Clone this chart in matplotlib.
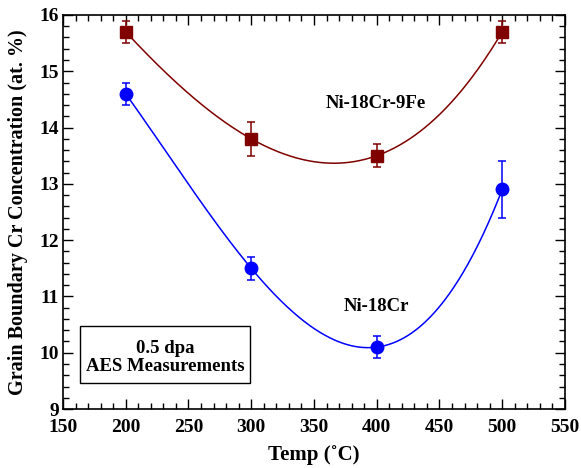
import numpy as np
import matplotlib
matplotlib.use("Agg")
import matplotlib.pyplot as plt
from matplotlib.ticker import MultipleLocator
from matplotlib.patches import Rectangle

plt.rcParams['font.family'] = ['Liberation Serif', 'DejaVu Serif']
plt.rcParams['font.weight'] = 'bold'

temps = [200, 300, 400, 500]
cr_fe = [15.7, 13.8, 13.5, 15.7]
cr_fe_err = [0.2, 0.3, 0.2, 0.2]
cr = [14.6, 11.5, 10.1, 12.9]
cr_err = [0.2, 0.2, 0.2, 0.5]

red = '#800000'
blue = '#0000ff'

fig = plt.figure(figsize=(5.81, 4.68), dpi=100)
ax = fig.add_axes([0.1084, 0.126, 0.864, 0.842])

xs = np.linspace(200, 500, 300)
for y, err, col, mk, ms in [(cr_fe, cr_fe_err, red, 's', 9), (cr, cr_err, blue, 'o', 9)]:
    coef = np.polyfit(temps, y, 3)
    ax.plot(xs, np.polyval(coef, xs), color=col, lw=1.1)
    ax.errorbar(temps, y, yerr=err, fmt=mk, color=col, ms=ms, capsize=3,
                elinewidth=1.1, capthick=1.1)

ax.set_xlim(150, 550)
ax.set_ylim(9, 16)
ax.xaxis.set_major_locator(MultipleLocator(50))
ax.xaxis.set_minor_locator(MultipleLocator(10))
ax.yaxis.set_major_locator(MultipleLocator(1))
ax.yaxis.set_minor_locator(MultipleLocator(0.2))
ax.tick_params(which='both', direction='in', top=True, right=True, width=1.0)
ax.tick_params(which='major', length=7, labelsize=14)
ax.tick_params(axis='x', which='major', pad=7)
ax.tick_params(axis='y', which='major', pad=3)
ax.tick_params(which='minor', length=4)
for s in ax.spines.values():
    s.set_linewidth(1.2)

ax.set_xlabel('Temp (˚C)', fontsize=15, fontweight='bold', labelpad=7)
ax.set_ylabel('Grain Boundary Cr Concentration (at. %)', fontsize=14.5,
              fontweight='bold', labelpad=8)

ax.text(399, 14.42, 'Ni-18Cr-9Fe', ha='center', va='center', fontsize=13.5, fontweight='bold')
ax.text(400, 10.82, 'Ni-18Cr', ha='center', va='center', fontsize=13.5, fontweight='bold')

ax.add_patch(Rectangle((0.034, 0.066), 0.338, 0.145, transform=ax.transAxes,
                       fill=False, lw=1.0, ec='black'))
ax.text(0.203, 0.154, '0.5 dpa', transform=ax.transAxes, ha='center', va='center',
        fontsize=13.5, fontweight='bold')
ax.text(0.203, 0.108, 'AES Measurements', transform=ax.transAxes, ha='center', va='center',
        fontsize=13.5, fontweight='bold')

fig.savefig('out.png', dpi=100)
